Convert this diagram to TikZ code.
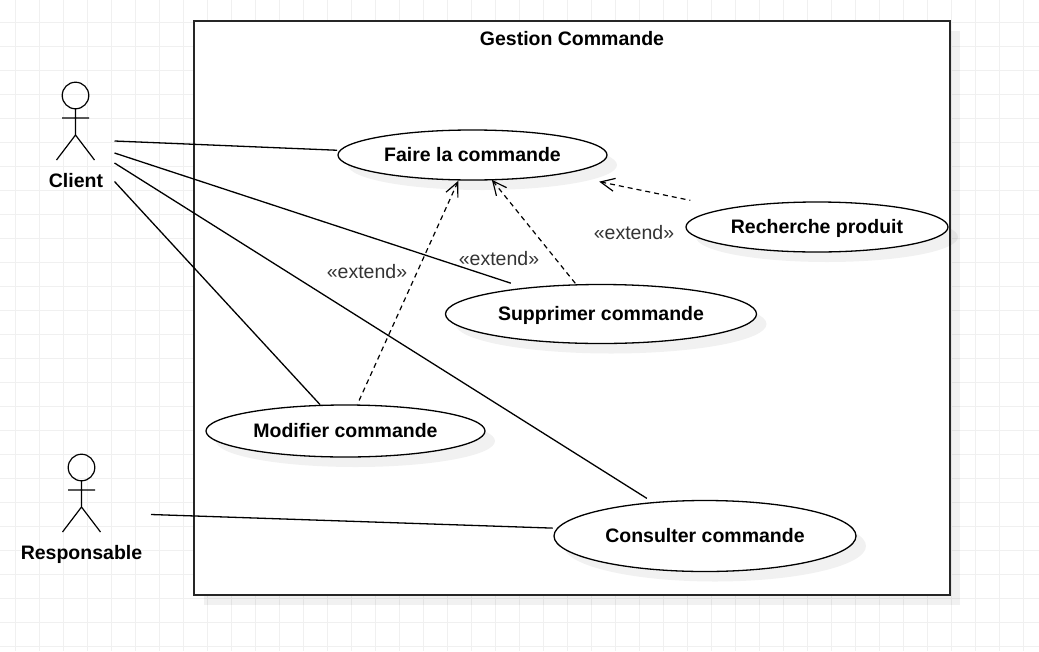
\documentclass[tikz,border=0pt]{standalone}
\usepackage{fontspec}
\setmainfont{Liberation Sans}
\usetikzlibrary{shapes.geometric,arrows.meta,shadows}

\begin{document}
\begin{tikzpicture}[
    x=1pt, y=-1pt,
    flatshadow/.style={general shadow={shadow xshift=10pt, shadow yshift=-10pt, fill=black, opacity=.055}},
    sysbox/.style={draw=black!85, line width=1.5pt, fill=white, flatshadow, anchor=north west, inner sep=0pt, outer sep=0pt},
    usecase/.style={draw, ellipse, line width=1.3pt, fill=white, flatshadow, inner sep=0pt, outer sep=0pt, text height=15pt, text depth=3pt, font=\fontsize{19.5}{22}\selectfont\bfseries},
    boldlabel/.style={font=\fontsize{19.5}{22}\selectfont\bfseries, text height=14pt, text depth=0pt},
    stereo/.style={font=\fontsize{19.5}{22}\selectfont, text=black!80},
    assoc/.style={line width=1.3pt},
    ext/.style={{Straight Barb[length=14pt, width=13pt]}-, line width=1.2pt, dash pattern=on 5pt off 4pt},
    gridline/.style={draw=black!6, line width=1pt},
    actor/.pic={
        \draw[line width=1.2pt] (0,0) circle (13.3);
        \draw[line width=1.2pt] (0,13.3) -- (0,39.5) (-13.5,22.5) -- (13.5,22.5)
            (-19,64.5) -- (0,39.5) -- (19,64.5);
    }
]
\path[use as bounding box, fill=white] (0,0) rectangle (1039,651);
\foreach \gx in {15,39,...,1039} \draw[gridline] (\gx,0) -- (\gx,651);
\foreach \gy in {22,46,...,651} \draw[gridline] (0,\gy) -- (1039,\gy);

\node[sysbox, minimum width=756pt, minimum height=574pt] (system) at (194,21) {};
\node[boldlabel] (title) at (572,38.5) {Gestion Commande};

% actors
\pic at (75.5,95.5) {actor};
\pic at (81.5,467.5) {actor};
\node[boldlabel] (client) at (76,180) {Client};
\node[boldlabel] (resp) at (81.5,552) {Responsable};
\coordinate (clienta) at (114.5,141);
\coordinate (clientb) at (114.5,153);
\coordinate (clientc) at (114.5,163);
\coordinate (clientd) at (114.5,181.5);
\coordinate (respa) at (151,514.5);

% use cases
\node[usecase, minimum width=269pt, minimum height=50pt] (faire) at (472.5,155) {Faire la commande};
\node[usecase, minimum width=262pt, minimum height=50pt] (recherche) at (817,227) {Recherche produit};
\node[usecase, minimum width=311pt, minimum height=59pt] (supprimer) at (601,314) {Supprimer commande};
\node[usecase, minimum width=279pt, minimum height=52pt] (modifier) at (345.5,431) {Modifier commande};
\node[usecase, minimum width=302pt, minimum height=71pt] (consulter) at (705,536) {Consulter commande};

\draw[assoc, shorten >=3.3pt] (clienta) -- (faire.178);
\draw[assoc, shorten >=16pt] (clientb) -- (supprimer.161);
\draw[assoc, shorten >=8pt] (clientc) -- (consulter.147.5);
\draw[assoc, shorten >=1pt] (clientd) -- (modifier.134);
\draw[assoc, shorten >=5pt] (respa) -- (consulter.177.4);

\draw[ext, shorten <=1pt, shorten >=1pt] (faire.241.6) -- (modifier.66);
\draw[ext] (faire.308.5) -- (supprimer.130);
\draw[ext, shorten <=39pt, shorten >=40pt] (faire.348.8) -- (recherche.168.8);

\node[stereo] (extmod) at (367,271.5) {«extend»};
\node[stereo] (extsup) at (499,258.5) {«extend»};
\node[stereo] (extrec) at (634,232.5) {«extend»};
\end{tikzpicture}
\end{document}
